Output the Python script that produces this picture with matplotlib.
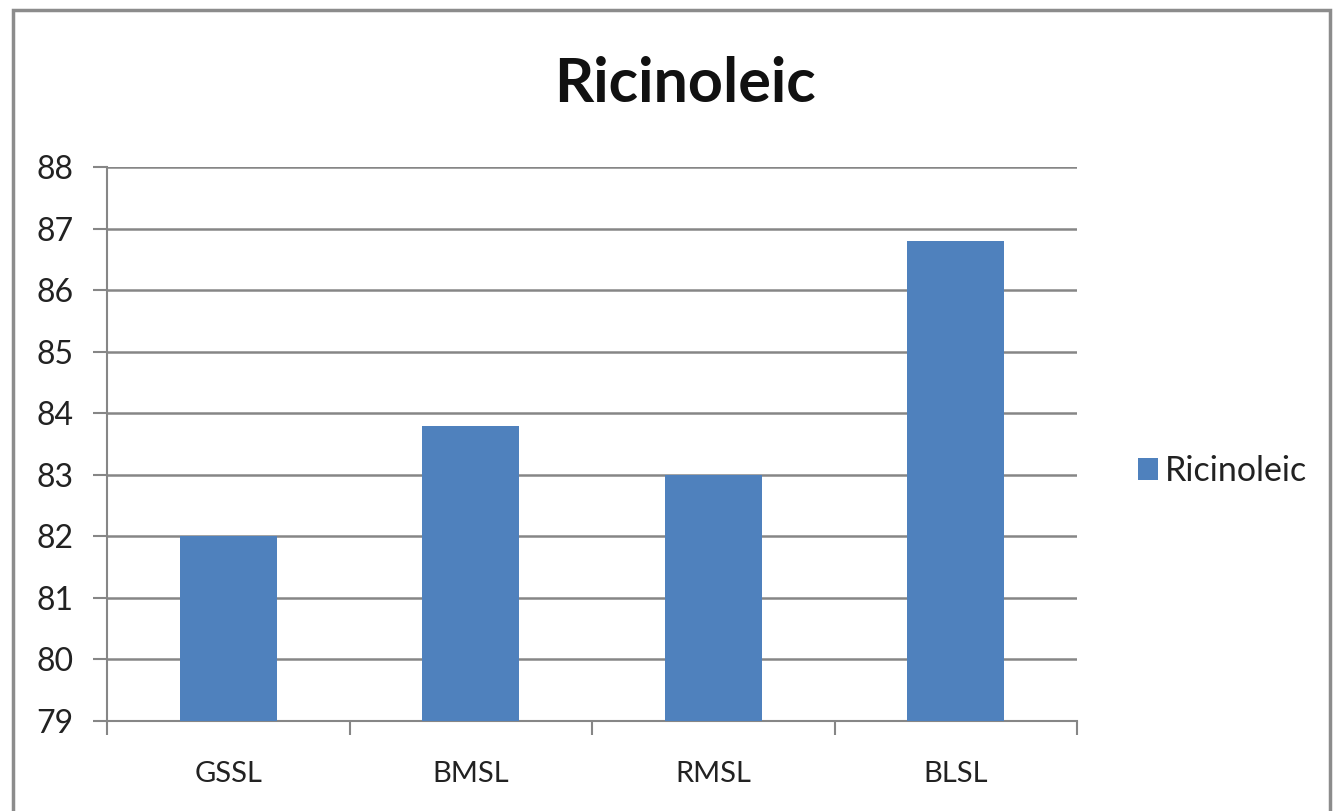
import matplotlib.pyplot as plt
from matplotlib.patches import Rectangle

categories = ['GSSL', 'BMSL', 'RMSL', 'BLSL']
values = [82.0, 83.8, 83.0, 86.8]
y_ticks = [79, 80, 81, 82, 83, 84, 85, 86, 87, 88]

plt.rcParams['font.family'] = ['Lato', 'DejaVu Sans']

fig = plt.figure(figsize=(13.39, 8.11), dpi=100)
ax = fig.add_axes([107 / 1339, 1 - 721 / 811, 970 / 1339, 554 / 811])

# outer chart border
fig.patches.append(Rectangle((13 / 1339, -0.01), 1317 / 1339, 1 - 10 / 811 + 0.01,
                             transform=fig.transFigure, fill=False,
                             edgecolor='#8c8c8c', linewidth=2.5))

x = range(len(categories))
ax.bar(x, values, width=0.4, bottom=0, color='#4F81BD', zorder=3, label='Ricinoleic')
ax.set_ylim(79, 88)
ax.set_xlim(-0.5, len(categories) - 0.5)
ax.set_yticks(y_ticks)
ax.set_yticklabels([str(v) for v in y_ticks], fontsize=23, color='#222222')
ax.set_xticks(list(x))
ax.set_xticklabels(categories, fontsize=21, color='#222222')
ax.tick_params(axis='x', length=0, pad=29)
ax.set_xticks([i - 0.5 for i in range(len(categories) + 1)], minor=True)
ax.tick_params(axis='x', which='minor', length=10, color='#868686', width=1.5, direction='out')
ax.tick_params(axis='y', length=10, color='#868686', width=1.5, pad=14)
ax.grid(axis='y', color='#868686', linewidth=1.8, zorder=0)

for side in ['top', 'right']:
    ax.spines[side].set_visible(False)
ax.spines['left'].set_color('#868686')
ax.spines['left'].set_linewidth(1.5)
ax.spines['bottom'].set_color('#868686')
ax.spines['bottom'].set_linewidth(1.5)

fig.text(685 / 1339, 1 - 84 / 811, 'Ricinoleic', ha='center', va='center',
         fontsize=44, fontweight='bold', color='#111111')

fig.legend(loc='center left', bbox_to_anchor=(1107 / 1339, 1 - 471 / 811), frameon=False,
           fontsize=24.5, handlelength=0.6, handleheight=0.6, handletextpad=0.2,
           labelcolor='#222222')

fig.savefig('out.png', dpi=100)
